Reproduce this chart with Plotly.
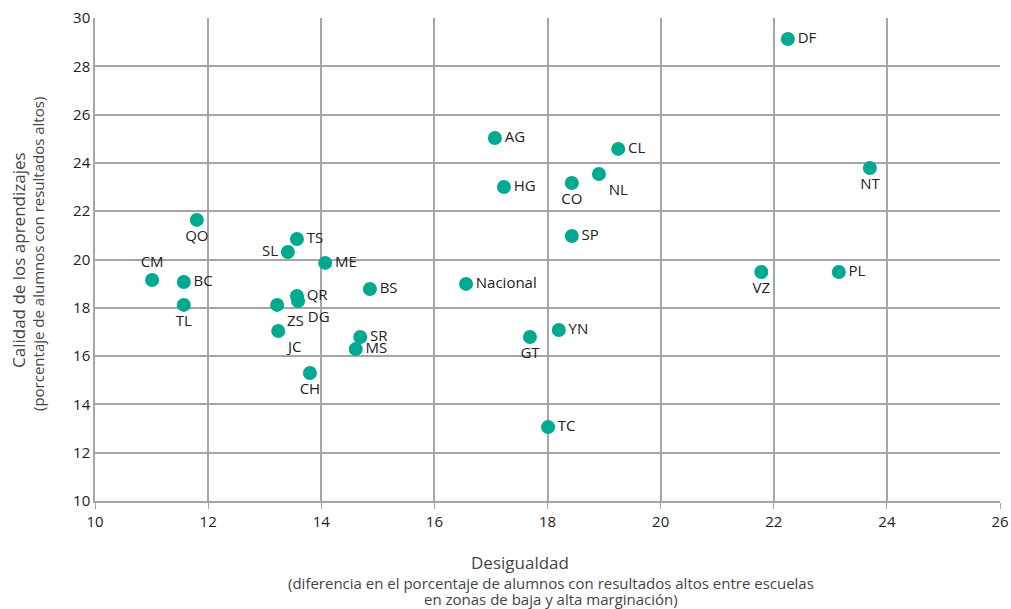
import plotly.graph_objects as go

estados = ["DF", "AG", "CL", "NT", "HG", "CO", "NL", "SP", "QO", "TS", "SL", "ME",
           "CM", "BC", "TL", "ZS", "QR", "DG", "JC", "BS", "Nacional", "SR", "MS",
           "CH", "GT", "YN", "TC", "VZ", "PL"]
desigualdad = [22.25, 17.07, 19.25, 23.70, 17.23, 18.43, 18.91, 18.43, 11.80, 13.57, 13.41, 14.07,
               11.01, 11.57, 11.57, 13.22, 13.57, 13.59, 13.24, 14.86, 16.56, 14.69, 14.61,
               13.80, 17.69, 18.20, 18.01, 21.78, 23.15]
calidad = [29.13, 25.03, 24.58, 23.79, 23.00, 23.17, 23.54, 20.97, 21.64, 20.85, 20.31, 19.86,
           19.15, 19.07, 18.12, 18.12, 18.49, 18.28, 17.04, 18.78, 18.99, 16.79, 16.29,
           15.30, 16.79, 17.08, 13.06, 19.48, 19.48]
posiciones = ["middle right", "middle right", "middle right", "bottom center", "middle right",
              "bottom center", "bottom right", "middle right", "bottom center", "middle right",
              "middle left", "middle right", "top center", "middle right", "bottom center",
              "bottom right", "middle right", "bottom right", "bottom right", "middle right",
              "middle right", "middle right", "middle right", "bottom center", "bottom center",
              "middle right", "middle right", "bottom center", "middle right"]

fig = go.Figure()
fig.add_trace(go.Scatter(
    x=desigualdad, y=calidad, mode="markers+text", text=estados,
    textposition=posiciones,
    textfont=dict(family="Open Sans", size=15, color="#222"),
    marker=dict(color="#00a98f", size=14, line=dict(width=0)),
    cliponaxis=False, hoverinfo="skip"
))

W, H = 1011, 609
L, R, T, B = 95, 11, 18, 108
grid = "#a6a6a6"
fig.update_layout(
    width=W, height=H, margin=dict(l=L, r=R, t=T, b=B, pad=0, autoexpand=False),
    paper_bgcolor="white", plot_bgcolor="white", showlegend=False,
    font=dict(family="Open Sans", color="#222"),
    xaxis=dict(range=[10, 26], dtick=2, showgrid=True, gridcolor=grid, gridwidth=1.5,
               showline=True, linecolor=grid, linewidth=1.5, ticks="outside",
               ticklen=6, tickcolor=grid, tickfont=dict(size=15, color="#222"),
               zeroline=False, automargin=False),
    yaxis=dict(range=[10, 30], dtick=2, showgrid=True, gridcolor=grid, gridwidth=1.5,
               showline=True, linecolor=grid, linewidth=1.5, ticks="",
               tickfont=dict(size=15, color="#222"), zeroline=False, automargin=False),
)
ph = H - T - B
pw = W - L - R
def py(pix):
    return (H - B - pix) / ph
def px(pix):
    return (pix - L) / pw
def ann(text, x, y, size, angle=0):
    return dict(text=text, x=px(x), y=py(y), xref="paper", yref="paper", showarrow=False,
                textangle=angle, font=dict(size=size, color="#444"),
                xanchor="center", yanchor="middle")
fig.layout.annotations = [
    ann("Desigualdad", 520, 562, 17),
    ann("(diferencia en el porcentaje de alumnos con resultados altos entre escuelas", 551, 583, 15),
    ann("en zonas de baja y alta marginación)", 551, 599, 15),
    ann("Calidad de los aprendizajes", 18, 260, 17, -90),
    ann("(porcentaje de alumnos con resultados altos)", 38, 254, 15, -90),
]
fig.write_html("out.html", config={"displayModeBar": False},
               post_script="document.body.style.margin='0px';")
